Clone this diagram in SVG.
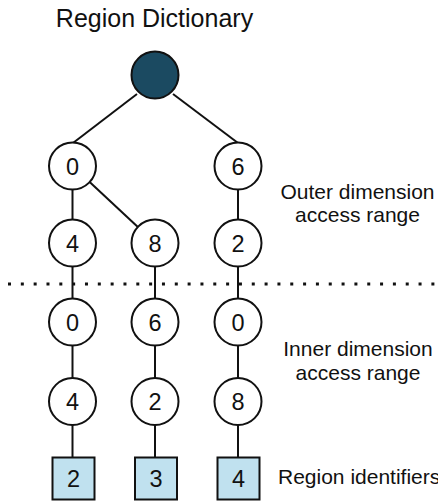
<svg xmlns="http://www.w3.org/2000/svg" width="438" height="502" viewBox="0 0 438 502">
  <style>
    .edge { stroke: #111; stroke-width: 2; fill: none; }
    .node { fill: #fff; stroke: #111; stroke-width: 2; }
    .root { fill: #1b4a61; stroke: #111; stroke-width: 2; }
    .leaf { fill: #c0e1ef; stroke: #111; stroke-width: 2; }
    .num { font-family: "Liberation Sans", Arial, Helvetica, sans-serif; font-size: 23.5px; fill: #111; text-anchor: middle; }
    .label { font-family: "Liberation Sans", Arial, Helvetica, sans-serif; font-size: 21px; fill: #111; text-anchor: middle; }
    .title { font-family: "Liberation Sans", Arial, Helvetica, sans-serif; font-size: 25px; fill: #111; text-anchor: middle; }
    .divider { stroke: #111; stroke-width: 3; stroke-dasharray: 3 9.83; fill: none; }
  </style>

  <text class="title" x="154.5" y="27">Region Dictionary</text>

  <!-- boundary between outer and inner dimension levels -->
  <line class="divider" x1="8" y1="284" x2="438" y2="284"/>

  <g id="connectors">
    <line class="edge" x1="137" y1="94" x2="73" y2="143"/>
    <line class="edge" x1="173" y1="94" x2="238" y2="143"/>
    <line class="edge" x1="72.5" y1="166" x2="72.5" y2="243"/>
    <line class="edge" x1="72.5" y1="166" x2="155" y2="243"/>
    <line class="edge" x1="238" y1="166" x2="238" y2="243"/>
    <line class="edge" x1="72.5" y1="243" x2="72.5" y2="322"/>
    <line class="edge" x1="155" y1="243" x2="155" y2="322"/>
    <line class="edge" x1="238" y1="243" x2="238" y2="322"/>
    <line class="edge" x1="72.5" y1="322" x2="72.5" y2="401.5"/>
    <line class="edge" x1="155" y1="322" x2="155" y2="401.5"/>
    <line class="edge" x1="238" y1="322" x2="238" y2="401.5"/>
    <line class="edge" x1="72.5" y1="401.5" x2="72.5" y2="458"/>
    <line class="edge" x1="155" y1="401.5" x2="155" y2="458"/>
    <line class="edge" x1="238" y1="401.5" x2="238" y2="458"/>
  </g>

  <g id="root"><circle class="root" cx="155" cy="75" r="23.5"/></g>

  <!-- outer dimension access ranges -->
  <g id="outer-0"><circle class="node" cx="72.5" cy="166" r="23.5"/><text class="num" x="72.5" y="174.5">0</text></g>
  <g id="outer-6"><circle class="node" cx="238" cy="166" r="23.5"/><text class="num" x="238" y="174.5">6</text></g>
  <g id="outer-4"><circle class="node" cx="72.5" cy="243" r="23.5"/><text class="num" x="72.5" y="251.5">4</text></g>
  <g id="outer-8"><circle class="node" cx="155" cy="243" r="23.5"/><text class="num" x="155" y="251.5">8</text></g>
  <g id="outer-2"><circle class="node" cx="238" cy="243" r="23.5"/><text class="num" x="238" y="251.5">2</text></g>

  <!-- inner dimension access ranges -->
  <g id="inner-a0"><circle class="node" cx="72.5" cy="322" r="23.5"/><text class="num" x="72.5" y="330.5">0</text></g>
  <g id="inner-b6"><circle class="node" cx="155" cy="322" r="23.5"/><text class="num" x="155" y="330.5">6</text></g>
  <g id="inner-c0"><circle class="node" cx="238" cy="322" r="23.5"/><text class="num" x="238" y="330.5">0</text></g>
  <g id="inner-a4"><circle class="node" cx="72.5" cy="401.5" r="23.5"/><text class="num" x="72.5" y="410">4</text></g>
  <g id="inner-b2"><circle class="node" cx="155" cy="401.5" r="23.5"/><text class="num" x="155" y="410">2</text></g>
  <g id="inner-c8"><circle class="node" cx="238" cy="401.5" r="23.5"/><text class="num" x="238" y="410">8</text></g>

  <!-- region identifiers -->
  <g id="region-2"><rect class="leaf" x="52.5" y="457.5" width="42" height="42"/><text class="num" x="73.5" y="487">2</text></g>
  <g id="region-3"><rect class="leaf" x="135" y="457.5" width="42" height="42"/><text class="num" x="156" y="487">3</text></g>
  <g id="region-4"><rect class="leaf" x="217.5" y="457.5" width="42" height="42"/><text class="num" x="238.5" y="487">4</text></g>

  <g id="labels">
    <text class="label" x="357.5" y="199">Outer dimension</text>
    <text class="label" x="357.5" y="222">access range</text>
    <text class="label" x="358" y="356">Inner dimension</text>
    <text class="label" x="358" y="380">access range</text>
    <text class="label" x="278" y="484" style="text-anchor:start">Region identifiers</text>
  </g>
</svg>
